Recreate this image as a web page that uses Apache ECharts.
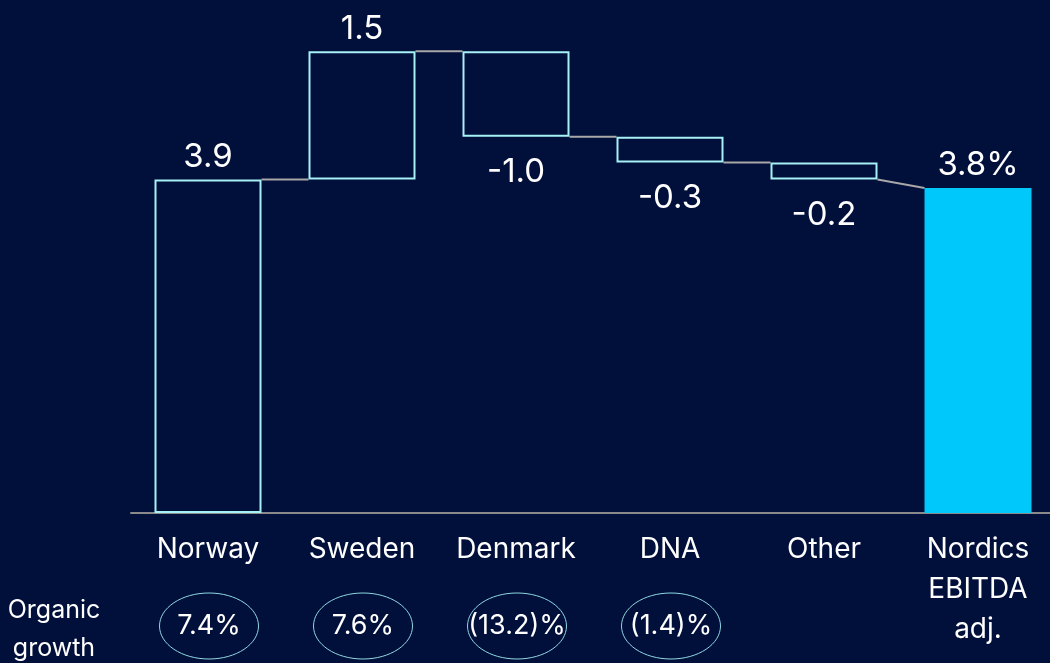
<!DOCTYPE html>
<html>
<head>
<meta charset="utf-8">
<script src="https://cdn.jsdelivr.net/npm/echarts@6/dist/echarts.min.js"></script>
<style>
  html, body { margin: 0; padding: 0; background: #010f3b; overflow: hidden; }
  #chart { width: 1060px; height: 663px; }
</style>
</head>
<body>
<div id="chart"></div>
<script>
// Nordics EBITDA bridge: contribution per market, then the adjusted total
const categories = ['Norway', 'Sweden', 'Denmark', 'DNA', 'Other', 'Nordics\nEBITDA\nadj.'];
const steps = [3.9, 1.5, -1.0, -0.3, -0.2];
const total = 3.8;
const valueLabels = ['3.9', '1.5', '-1.0', '-0.3', '-0.2', '3.8%'];
const organicGrowth = ['7.4%', '7.6%', '(13.2)%', '(1.4)%'];

const FONT = 'Inter, "Liberation Sans", Arial, sans-serif';
const BAR_W = 107;
const OUTLINE = '#a6f1f6';
const FILL_TOTAL = '#00c8fb';
const CONNECTOR = '#a8a8a8';

// running start / end level of each bar
const starts = [];
const ends = [];
let level = 0;
steps.forEach(s => {
  starts.push(level);
  level = Math.round((level + s) * 100) / 100;
  ends.push(level);
});
starts.push(0);
ends.push(total);

const lows = starts.map((s, i) => Math.min(s, ends[i]));
const spans = starts.map((s, i) => Math.round(Math.abs(ends[i] - s) * 100) / 100);
const lastIndex = categories.length - 1;

const bodyData = spans.map((v, i) => {
  const isTotal = i === lastIndex;
  const neg = !isTotal && steps[i] < 0;
  return {
    value: v,
    itemStyle: isTotal
      ? { color: FILL_TOTAL, borderWidth: 0 }
      : { color: 'rgba(0,0,0,0)', borderColor: OUTLINE, borderWidth: 2 },
    label: {
      show: true,
      position: neg ? 'bottom' : 'top',
      distance: neg ? 19 : 6,
      formatter: valueLabels[i],
      color: '#ffffff',
      fontSize: 33,
      fontFamily: FONT
    }
  };
});

// each connector runs from the end level of one bar to where the next one begins
// (the total bar is entered at its top)
const connectorData = steps.map((s, i) => [i, ends[i], i + 1 === lastIndex ? total : starts[i + 1]]);
const ellipseData = organicGrowth.map((t, i) => [i, 0]);

const chart = echarts.init(document.getElementById('chart'), null, { renderer: 'canvas' });

chart.setOption({
  backgroundColor: '#010f3b',
  animation: false,
  grid: { left: 131, top: 17, width: 924, bottom: 150, containLabel: false },
  xAxis: {
    type: 'category',
    data: categories,
    axisLine: { show: true, lineStyle: { color: '#8a8a8a', width: 2 } },
    axisTick: { show: false },
    axisLabel: {
      color: '#ffffff',
      fontSize: 28,
      fontFamily: FONT,
      lineHeight: 40,
      margin: 17,
      interval: 0
    }
  },
  yAxis: { type: 'value', min: 0, max: 5.8, show: false, splitLine: { show: false } },
  graphic: [{
    type: 'text',
    x: 54,
    y: 591,
    style: {
      text: 'Organic\ngrowth',
      fill: '#ffffff',
      font: '25px ' + FONT,
      lineHeight: 38,
      align: 'center'
    }
  }],
  series: [
    {
      type: 'bar',
      stack: 'wf',
      barWidth: BAR_W,
      silent: true,
      itemStyle: { color: 'rgba(0,0,0,0)' },
      data: lows
    },
    {
      type: 'bar',
      stack: 'wf',
      barWidth: BAR_W,
      data: bodyData
    },
    {
      // connectors between consecutive bars
      type: 'custom',
      clip: false,
      data: connectorData,
      encode: { x: 0, y: 1 },
      renderItem: function (params, api) {
        const a = api.coord([api.value(0), api.value(1)]);
        const b = api.coord([api.value(0) + 1, api.value(2)]);
        return {
          type: 'line',
          shape: { x1: a[0] + BAR_W / 2, y1: a[1], x2: b[0] - BAR_W / 2, y2: b[1] },
          style: { stroke: CONNECTOR, lineWidth: 2 }
        };
      },
      z: 1
    },
    {
      // organic growth bubbles under the market labels
      type: 'custom',
      clip: false,
      data: ellipseData,
      encode: { x: 0, y: 1 },
      renderItem: function (params, api) {
        const c = api.coord([api.value(0), 0]);
        const cy = c[1] + 113;
        return {
          type: 'group',
          children: [{
            type: 'ellipse',
            shape: { cx: c[0] + 1, cy: cy, rx: 49.5, ry: 33 },
            style: { fill: 'none', stroke: '#8fd8e2', lineWidth: 1 }
          }, {
            type: 'text',
            x: c[0] + 1,
            y: cy,
            style: {
              text: organicGrowth[params.dataIndex],
              fill: '#ffffff',
              font: '27px ' + FONT,
              align: 'center',
              verticalAlign: 'middle'
            }
          }]
        };
      }
    }
  ]
});
</script>
</body>
</html>
